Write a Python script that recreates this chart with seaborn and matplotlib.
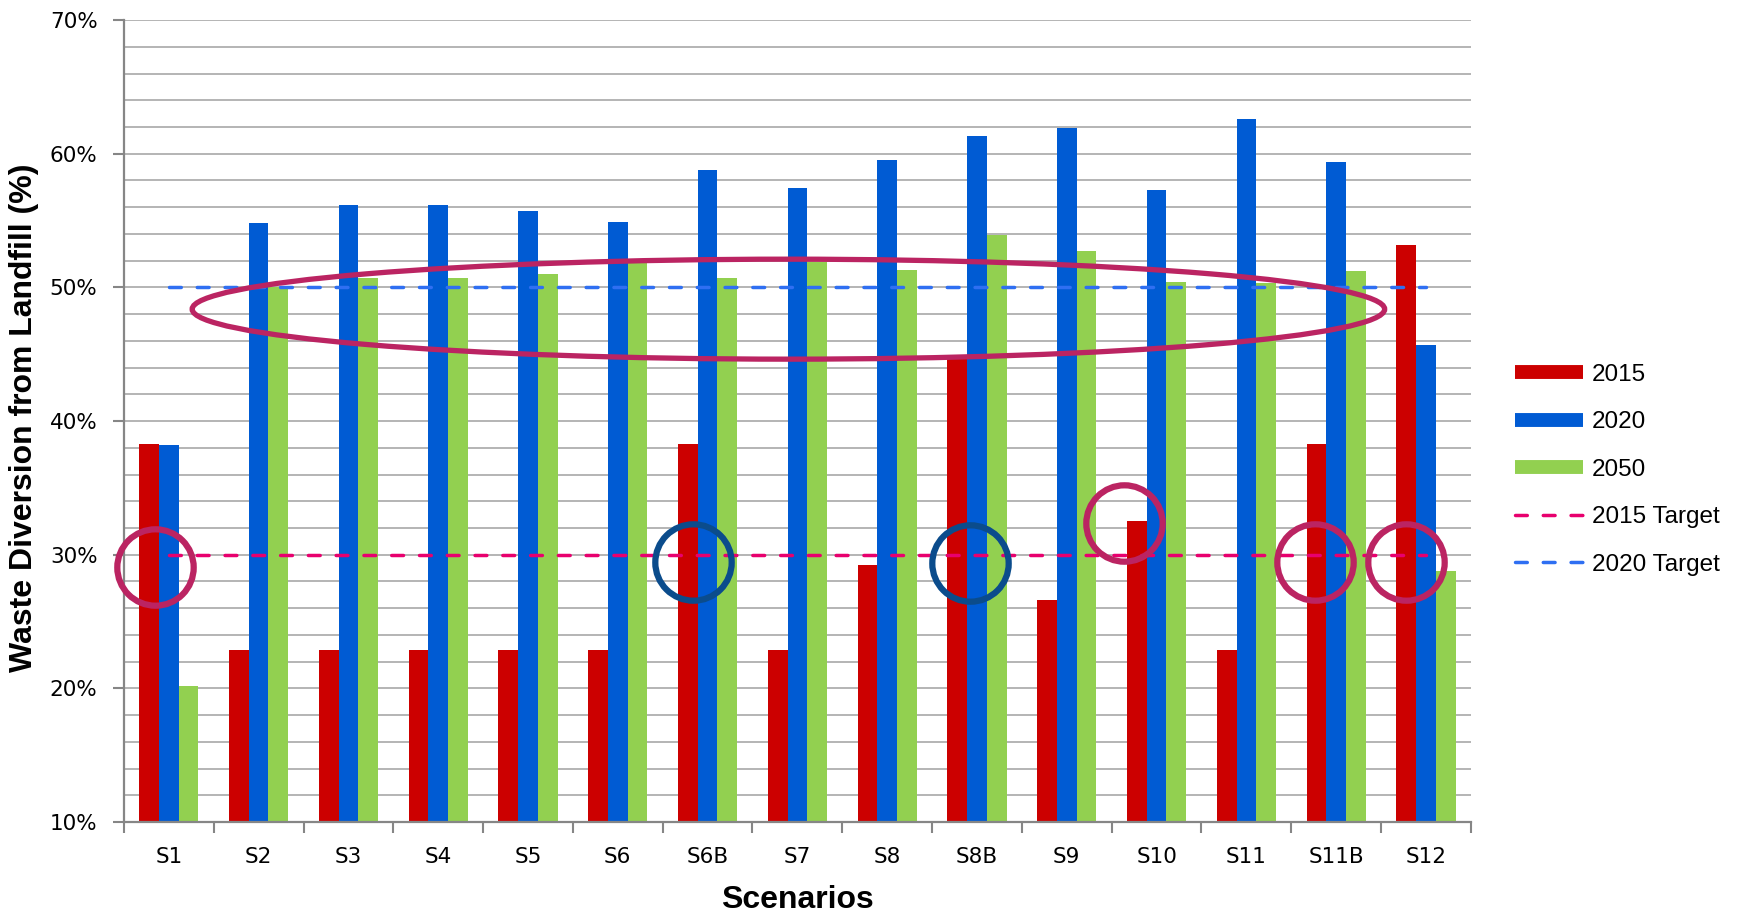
import numpy as np
import pandas as pd
import matplotlib
matplotlib.use('Agg')
import matplotlib.pyplot as plt
from matplotlib.patches import Ellipse
from matplotlib.lines import Line2D
from matplotlib.ticker import MultipleLocator, FuncFormatter
import seaborn as sns

# values (% diverted from landfill)
scenarios = ['S1', 'S2', 'S3', 'S4', 'S5', 'S6', 'S6B', 'S7', 'S8', 'S8B', 'S9', 'S10', 'S11', 'S11B', 'S12']
div_2015 = [38.3, 22.9, 22.9, 22.9, 22.9, 22.9, 38.3, 22.9, 29.2, 44.8, 26.6, 32.5, 22.9, 38.3, 53.2]
div_2020 = [38.2, 54.8, 56.2, 56.2, 55.7, 54.9, 58.8, 57.4, 59.5, 61.3, 61.9, 57.3, 62.6, 59.4, 45.7]
div_2050 = [20.2, 50.0, 50.7, 50.7, 51.0, 51.8, 50.7, 51.9, 51.3, 53.9, 52.7, 50.4, 50.3, 51.2, 28.8]
years = ['2015', '2020', '2050']
target_2015 = 30
target_2020 = 50

colors = {'2015': '#CC0000', '2020': '#005BD3', '2050': '#92D050'}
pink = '#E8006E'
light_blue = '#2F6FF2'
ring = '#BB2462'
ring_blue = '#0B4C8C'

df = pd.DataFrame({'scenario': scenarios, '2015': div_2015, '2020': div_2020, '2050': div_2050})
long_df = df.melt(id_vars='scenario', var_name='year', value_name='diversion')

fig = plt.figure(figsize=(17.38, 9.16), dpi=100)
ax = fig.add_axes([0.0713, 0.1026, 0.775, 0.8755])

sns.barplot(data=long_df, x='scenario', y='diversion', hue='year', hue_order=years,
            palette=colors, width=0.66, linewidth=0, saturation=1, legend=False, ax=ax, zorder=2)

# target lines from first to last scenario
xs = [0, len(scenarios) - 1]
ax.plot(xs, [target_2015, target_2015], color=pink, lw=2.5, dashes=(3.4, 4.6),
        dash_capstyle='round', zorder=4)
ax.plot(xs, [target_2020, target_2020], color=light_blue, lw=2.5, dashes=(3.4, 4.6),
        dash_capstyle='round', zorder=4)

# highlight annotations
ax.add_patch(Ellipse((6.9, 48.37), 13.28, 7.48, fill=False, edgecolor=ring, lw=3.8, zorder=5))
ring_pts = [(-0.15, 29.05, ring), (5.84, 29.45, ring_blue), (8.92, 29.4, ring_blue),
            (10.64, 32.35, ring), (12.76, 29.45, ring), (13.78, 29.45, ring)]
for cx, cy, c in ring_pts:
    ax.plot(cx, cy, 'o', ms=55, mfc='none', mec=c, mew=4.5, zorder=5, clip_on=False)

ax.set_xlim(-0.5, len(scenarios) - 0.5)
ax.set_ylim(10, 70)
ax.yaxis.set_major_locator(MultipleLocator(10))
ax.yaxis.set_minor_locator(MultipleLocator(2))
ax.yaxis.set_major_formatter(FuncFormatter(lambda v, p: f'{v:.0f}%'))
ax.set_axisbelow(True)
ax.grid(axis='y', which='both', color='#B4B4B4', lw=1.4, zorder=0)
ax.grid(axis='x', visible=False)

ax.set_xticks(np.arange(-0.5, len(scenarios)), minor=True)
ax.tick_params(axis='x', which='major', length=0, pad=18, labelsize=15.5)
ax.tick_params(axis='x', which='minor', length=8, width=1.5, color='#868686')
ax.tick_params(axis='y', which='major', length=8, width=1.5, color='#868686', pad=11, labelsize=15.5)
ax.tick_params(axis='y', which='minor', length=0)

for s in ['top', 'right']:
    ax.spines[s].set_visible(False)
for s in ['left', 'bottom']:
    ax.spines[s].set_color('#868686')
    ax.spines[s].set_linewidth(1.6)

ax.set_xlabel('Scenarios', fontsize=23, fontweight='bold', family=['Liberation Sans', 'DejaVu Sans'])
ax.xaxis.set_label_coords(0.5, -0.078)
ax.set_ylabel('Waste Diversion from Landfill (%)', fontsize=23, fontweight='bold',
              family=['Liberation Sans', 'DejaVu Sans'])
ax.yaxis.set_label_coords(-0.063, 0.504)

handles = [Line2D([], [], color=colors[y], lw=10, solid_capstyle='butt') for y in years]
handles += [Line2D([], [], color=pink, lw=2.5, dashes=(3.4, 4.6), dash_capstyle='round'),
            Line2D([], [], color=light_blue, lw=2.5, dashes=(3.4, 4.6), dash_capstyle='round')]
labels = years + ['2015 Target', '2020 Target']
fig.legend(handles, labels, loc='center left', bbox_to_anchor=(0.8717, 0.487), frameon=False,
           borderpad=0, borderaxespad=0, handlelength=2.8, handletextpad=0.35, labelspacing=1.05,
           prop={'family': ['Liberation Sans', 'DejaVu Sans'], 'size': 17.5})

fig.savefig('out.png', dpi=100)
